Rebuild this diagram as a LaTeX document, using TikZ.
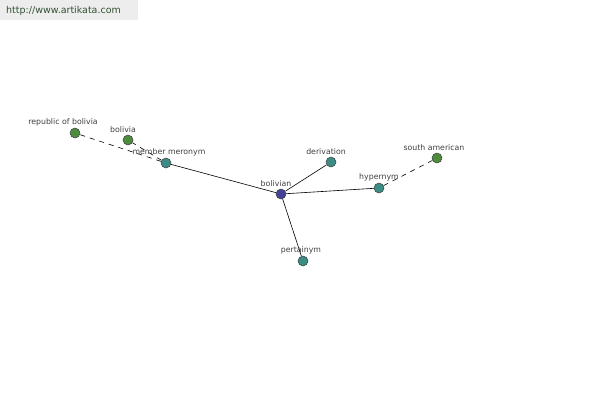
\documentclass[tikz,border=0pt]{standalone}
\usepackage{fontspec}
\setmainfont{DejaVu Sans}
\definecolor{cteal}{RGB}{58,140,132}
\definecolor{cgreen}{RGB}{76,140,60}
\definecolor{cblue}{RGB}{66,66,150}
\definecolor{curl}{RGB}{50,80,50}
\begin{document}
\begin{tikzpicture}[x=1pt,y=-1pt,
  dot/.style={circle,draw=black!75,line width=0.5pt,minimum size=10pt,inner sep=0pt},
  tealdot/.style={dot,fill=cteal},
  grndot/.style={dot,fill=cgreen},
  bludot/.style={dot,fill=cblue},
  lbl/.style={font=\fontsize{7.8}{9}\selectfont,text=black!75,inner sep=0pt,anchor=south},
  edge/.style={draw=black,line width=0.6pt},
  dedge/.style={edge,dash pattern=on 5pt off 5pt}]
\useasboundingbox (0,0) rectangle (600,400);
\fill[white] (0,0) rectangle (600,400);
\fill[black!7] (0,0) rectangle (138,20);
\node[font=\fontsize{9.5}{11}\selectfont,text=curl,anchor=west,inner sep=0pt] (url) at (6,11) {http://www.artikata.com};
% nodes
\node[bludot] (bolivian) at (281,194) {};
\node[tealdot] (mm) at (166,163) {};
\node[tealdot] (der) at (331,162) {};
\node[tealdot] (hyp) at (379,188) {};
\node[tealdot] (per) at (303,261) {};
\node[grndot] (rob) at (75,133) {};
\node[grndot] (bol) at (128,140) {};
\node[grndot] (sa) at (437,158) {};
% edges
\draw[edge] (bolivian) -- (mm);
\draw[edge] (bolivian) -- (der);
\draw[edge] (bolivian) -- (hyp);
\draw[edge] (bolivian) -- (per);
\draw[dedge] (mm) -- (rob);
\draw[dedge] (mm) -- (bol);
\draw[dedge] (hyp) -- (sa);
% labels
\node[lbl] (l1) at (63,126) {republic of bolivia};
\node[lbl] (l2) at (123,133) {bolivia};
\node[lbl] (l3) at (169,156) {member meronym};
\node[lbl] (l4) at (276,187) {bolivian};
\node[lbl] (l5) at (326,155) {derivation};
\node[lbl] (l6) at (379,181) {hypernym};
\node[lbl] (l7) at (434,151) {south american};
\node[lbl] (l8) at (301,254) {pertainym};
\end{tikzpicture}
\end{document}
